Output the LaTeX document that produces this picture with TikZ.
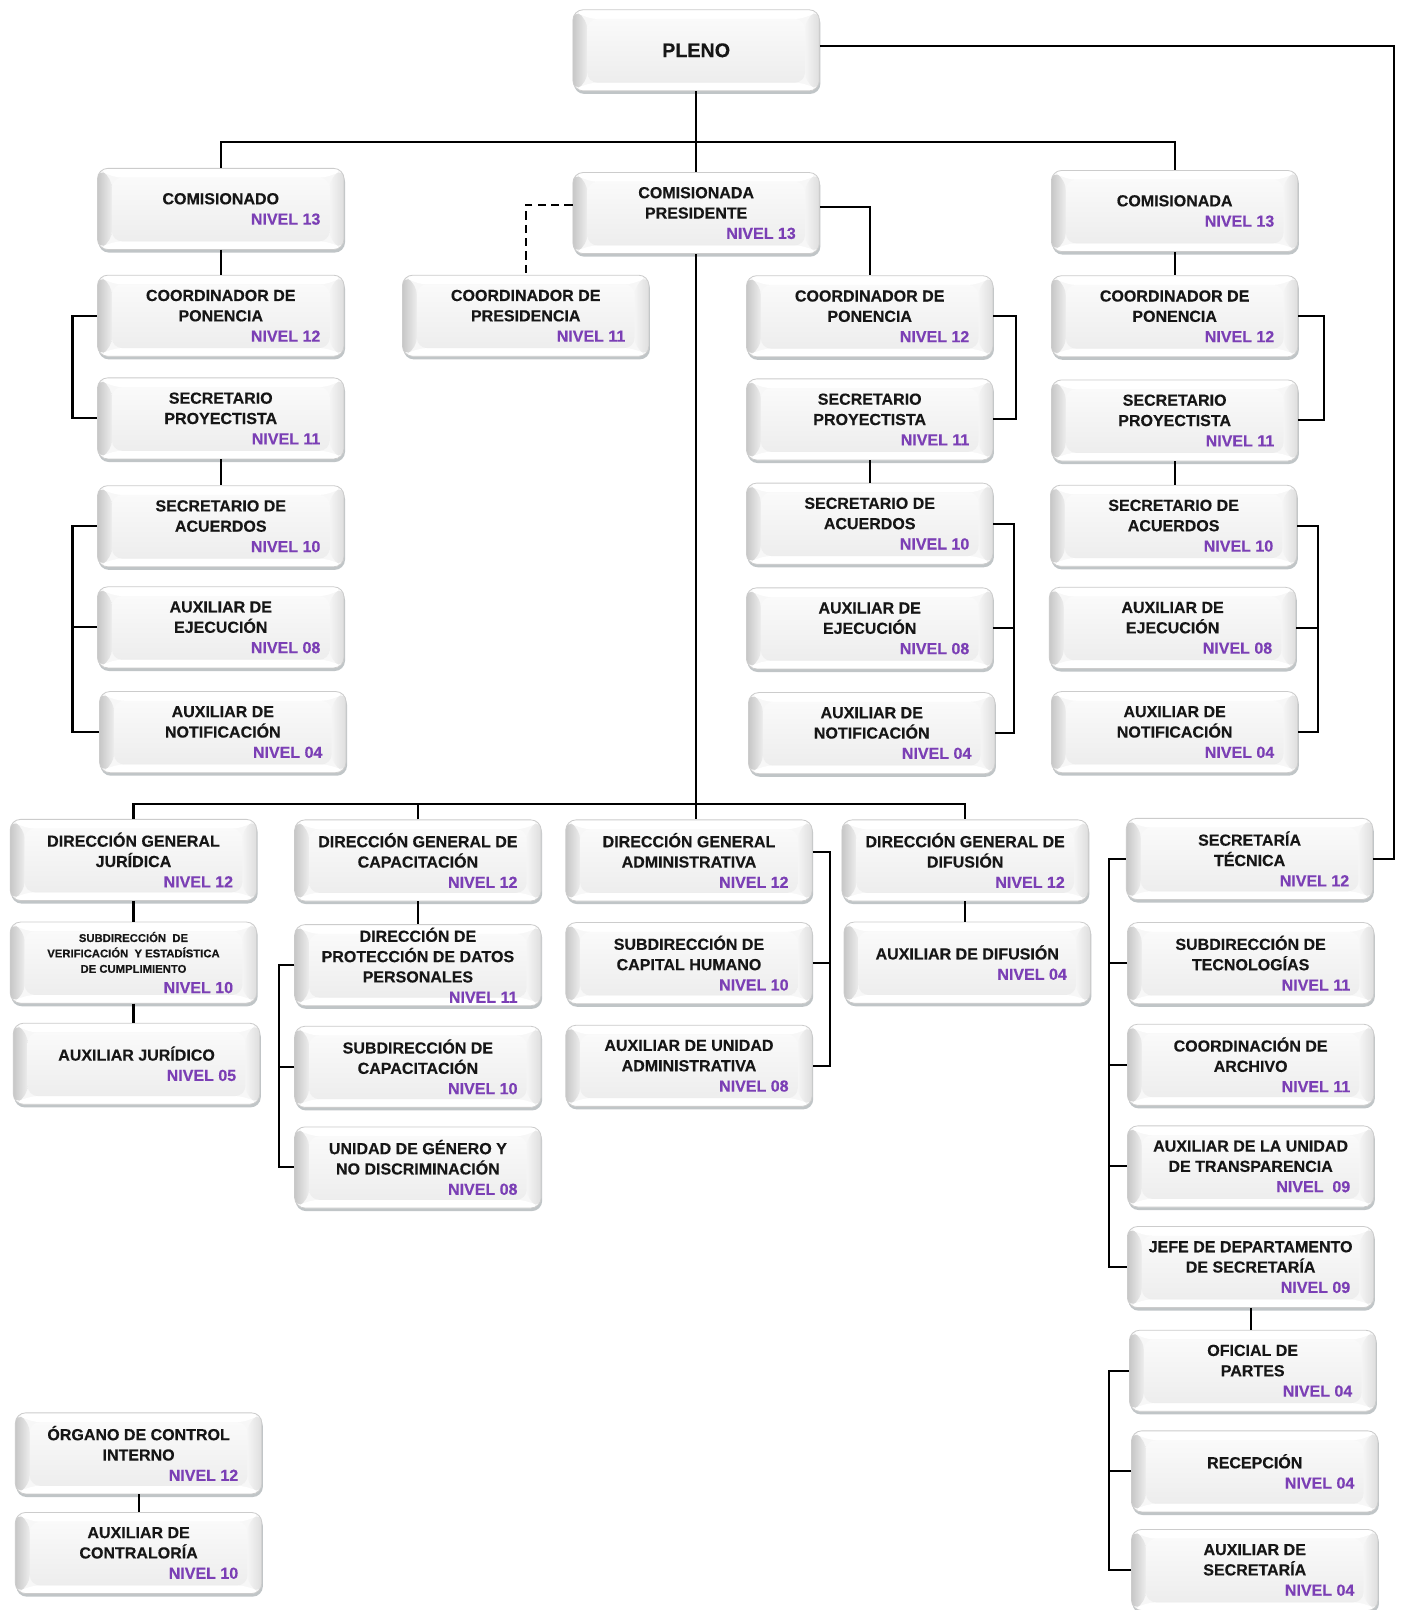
\documentclass[tikz,border=0pt]{standalone}
\usepackage{fontspec}
\setmainfont{Liberation Sans}[BoldFeatures={FakeBold=0.35}]
\usetikzlibrary{shadows,calc}
\definecolor{niv}{HTML}{7B3FB5}
\definecolor{txt}{HTML}{161616}
\tikzset{
  bevel/.style={path picture={
    \coordinate (bsw) at (path picture bounding box.south west);
    \coordinate (bne) at (path picture bounding box.north east);
    \coordinate (bnw) at (bsw |- bne);
    \coordinate (bse) at (bne |- bsw);
    \coordinate (isw) at ($(bsw)+(7pt,4pt)$);
    \coordinate (ine) at ($(bne)+(-7pt,-4.5pt)$);
    \coordinate (inw) at (isw |- ine);
    \coordinate (ise) at (ine |- isw);
    \fill[black!3] (bsw) rectangle (bne);
    \shade[left color=black!22, right color=black!7] (bsw) -- (bnw) -- (inw) -- (isw) -- cycle;
    \shade[left color=black!4, right color=black!13] (bse) -- (bne) -- (ine) -- (ise) -- cycle;
    \fill[white] (bnw) -- (bne) -- (ine) -- (inw) -- cycle;
    \fill[white] (bsw) -- (bse) -- (ise) -- (isw) -- cycle;
    \shade[top color=black!2, bottom color=black!7] (isw) rectangle (ine);
  }},
  box/.style={rectangle, rounded corners=5pt, minimum width=120pt, minimum height=39.5pt,
    text width=104pt, align=flush center, inner sep=0pt,
    font=\bfseries\fontsize{7.8}{9.9}\selectfont, text=txt,
    draw=black!20, line width=0.4pt, bevel,
    drop shadow={shadow xshift=0.5pt, shadow yshift=-1.5pt, opacity=0.5, fill=black!45!cyan!20!gray}},
  link/.style={line width=1pt, black},
}
\newcommand\orgbox[4]{\node[box] (#1) at (#2) {#3\\\hfill\textcolor{niv}{#4}\hspace*{3.5pt}};}
\begin{document}
\begin{tikzpicture}[x=0.5pt,y=-0.5pt]
\useasboundingbox[fill=white] (0,0) rectangle (1368,1568);
\coordinate (bar1) at (0,138);
\coordinate (bar2) at (0,783);
\coordinate (rt) at (1358,45);

% top
\node[box, font=\bfseries\fontsize{9.6}{11}\selectfont] (pleno) at (678,49) {PLENO};
\orgbox{pres}{678,207.5}{COMISIONADA\\PRESIDENTE}{NIVEL 13}
\orgbox{cpres}{512,307.5}{COORDINADOR DE\\PRESIDENCIA}{NIVEL 11}

% column 1
\orgbox{com1}{215,203.5}{COMISIONADO}{NIVEL 13}
\orgbox{cp1}{215,307.5}{COORDINADOR DE\\PONENCIA}{NIVEL 12}
\orgbox{sp1}{215,407.5}{SECRETARIO\\PROYECTISTA}{NIVEL 11}
\orgbox{sa1}{215,512.5}{SECRETARIO DE\\ACUERDOS}{NIVEL 10}
\orgbox{ae1}{215,611}{AUXILIAR DE\\EJECUCIÓN}{NIVEL 08}
\orgbox{an1}{217,713}{AUXILIAR DE\\NOTIFICACIÓN}{NIVEL 04}

% column 3
\orgbox{cp3}{847,308}{COORDINADOR DE\\PONENCIA}{NIVEL 12}
\orgbox{sp3}{847,408.5}{SECRETARIO\\PROYECTISTA}{NIVEL 11}
\orgbox{sa3}{847,510}{SECRETARIO DE\\ACUERDOS}{NIVEL 10}
\orgbox{ae3}{847,612}{AUXILIAR DE\\EJECUCIÓN}{NIVEL 08}
\orgbox{an3}{849,714}{AUXILIAR DE\\NOTIFICACIÓN}{NIVEL 04}

% column 4
\orgbox{com4}{1144,205.5}{COMISIONADA}{NIVEL 13}
\orgbox{cp4}{1144,308}{COORDINADOR DE\\PONENCIA}{NIVEL 12}
\orgbox{sp4}{1144,409.5}{SECRETARIO\\PROYECTISTA}{NIVEL 11}
\orgbox{sa4}{1143,512}{SECRETARIO DE\\ACUERDOS}{NIVEL 10}
\orgbox{ae4}{1142,611.5}{AUXILIAR DE\\EJECUCIÓN}{NIVEL 08}
\orgbox{an4}{1144,713}{AUXILIAR DE\\NOTIFICACIÓN}{NIVEL 04}

% bottom
\orgbox{dgj}{130,837.5}{DIRECCIÓN GENERAL\\JURÍDICA}{NIVEL 12}
\node[box] (sdv) at (130,937.5) {{\fontsize{5.5}{7.5}\selectfont SUBDIRECCIÓN\ \ DE\\VERIFICACIÓN\ \ Y ESTADÍSTICA\\DE CUMPLIMIENTO\par}\noindent\hfill\textcolor{niv}{NIVEL 10}\hspace*{3.5pt}};
\orgbox{axj}{133,1036}{AUXILIAR JURÍDICO}{NIVEL 05}

\orgbox{dgc}{407,838}{DIRECCIÓN GENERAL DE\\CAPACITACIÓN}{NIVEL 12}
\node[box] (dpd) at (407,940) {DIRECCIÓN DE\\PROTECCIÓN DE DATOS\\PERSONALES\\\hfill\textcolor{niv}{NIVEL 11}\hspace*{3.5pt}};
\orgbox{sdc}{407,1039}{SUBDIRECCIÓN DE\\CAPACITACIÓN}{NIVEL 10}
\orgbox{ugn}{407,1137}{UNIDAD DE GÉNERO Y\\NO DISCRIMINACIÓN}{NIVEL 08}

\orgbox{dga}{671,838}{DIRECCIÓN GENERAL\\ADMINISTRATIVA}{NIVEL 12}
\orgbox{sch}{671,938}{SUBDIRECCIÓN DE\\CAPITAL HUMANO}{NIVEL 10}
\orgbox{aua}{671,1038}{AUXILIAR DE UNIDAD\\ADMINISTRATIVA}{NIVEL 08}

\orgbox{dgd}{940,838}{DIRECCIÓN GENERAL DE\\DIFUSIÓN}{NIVEL 12}
\orgbox{axd}{942,937.5}{AUXILIAR DE DIFUSIÓN}{NIVEL 04}

\orgbox{st}{1217,836.5}{SECRETARÍA\\TÉCNICA}{NIVEL 12}
\orgbox{stec}{1218,938}{SUBDIRECCIÓN DE\\TECNOLOGÍAS}{NIVEL 11}
\orgbox{carch}{1218,1037}{COORDINACIÓN DE\\ARCHIVO}{NIVEL 11}
\orgbox{aut}{1218,1136}{AUXILIAR DE LA UNIDAD\\DE TRANSPARENCIA}{NIVEL\ \ 09}
\orgbox{jds}{1218,1234}{JEFE DE DEPARTAMENTO\\DE SECRETARÍA}{NIVEL 09}
\orgbox{ofp}{1220,1335}{OFICIAL DE\\PARTES}{NIVEL\ 04}
\orgbox{rec}{1222,1433}{RECEPCIÓN}{NIVEL\ 04}
\orgbox{axs}{1222,1529}{AUXILIAR DE\\SECRETARÍA}{NIVEL\ 04}

\orgbox{oci}{135,1415.5}{ÓRGANO DE CONTROL\\INTERNO}{NIVEL 12}
\orgbox{axc}{135,1512.5}{AUXILIAR DE\\CONTRALORÍA}{NIVEL 10}

% connectors
\draw[link] (pleno) -- (pres);
\draw[link] (com1.north) |- (com4.north |- bar1) -- (com4.north);
\draw[link] (pleno.east |- rt) -- (rt) |- (st.east);
\draw[link, dash pattern=on 4pt off 2.5pt] ([yshift=4pt]pres.west) -| (cpres.north);
\draw[link] ([yshift=3pt]pres.east) -| (cp3.north);
\draw[link] (pres.south) -- (pres.south |- dga.north);
\draw[link] (dgj.north) |- (dgd.north |- bar2) -- (dgd.north);
\draw[link] (dgc.north) -- (dgc.north |- bar2);

\draw[link] (com1) -- (cp1);
\draw[link] (cp1.west) -- ++(-24,0) |- (sp1.west);
\draw[link] (sp1) -- (sa1);
\draw[link] (sa1.west) -- ++(-24,0) |- (an1.west);
\draw[link] (ae1.west) -- ++(-24,0);

\draw[link] (cp3.east) -- ++(22,0) |- (sp3.east);
\draw[link] (sp3) -- (sa3);
\draw[link] (sa3.east) -- ++(20,0) |- (an3.east);
\draw[link] (ae3.east) -- ++(20,0);

\draw[link] (com4) -- (cp4);
\draw[link] (cp4.east) -- ++(25,0) |- (sp4.east);
\draw[link] (sp4.south) -- (sp4.south |- sa4.north);
\draw[link] (sa4.east) -- ++(20,0) |- (an4.east);
\draw[link] (ae4.east) -- ++(21,0);

\draw[link] (dgj) -- (sdv);
\draw[link] (sdv.south) -- (sdv.south |- axj.north);
\draw[link] (dgc) -- (dpd);
\draw[link] (dpd.west) -- ++(-15,0) |- (ugn.west);
\draw[link] (sdc.west) -- ++(-15,0);
\draw[link] ([yshift=4pt]dga.east) -- ++(17,0) |- (aua.east);
\draw[link] (sch.east) -- ++(17,0);
\draw[link] (dgd.south) -- (dgd.south |- axd.north);

\draw[link] (st.west) -- ++(-17,0) |- (jds.west);
\draw[link] (stec.west) -- ++(-18,0);
\draw[link] (carch.west) -- ++(-18,0);
\draw[link] (aut.west) -- ++(-18,0);
\draw[link] (jds.south) -- (jds.south |- ofp.north);
\draw[link] (ofp.west) -- ++(-20,0) |- (axs.west);
\draw[link] (rec.west) -- ++(-22,0);
\draw[link] (oci) -- (axc);
\end{tikzpicture}
\end{document}
